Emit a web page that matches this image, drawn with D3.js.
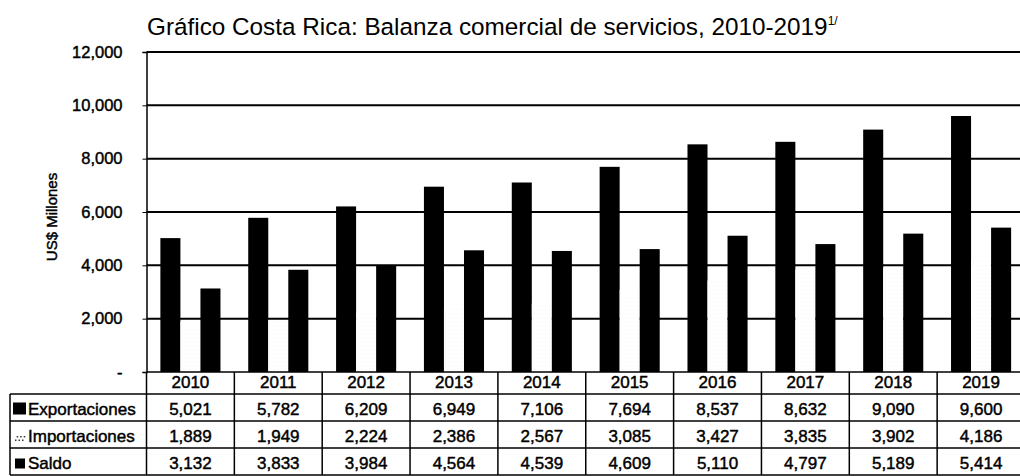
<!DOCTYPE html>
<html><head><meta charset="utf-8">
<script src="https://cdn.jsdelivr.net/npm/d3@7"></script>
<style>
html,body{margin:0;padding:0;background:#fff;}
svg{display:block;font-family:"Liberation Sans",Arial,sans-serif;}
.heavy{stroke:#000;stroke-width:0.45px;}
</style></head>
<body>
<svg id="chart" width="1020" height="476"></svg>
<script>
const years = ["2010","2011","2012","2013","2014","2015","2016","2017","2018","2019"];
const exportaciones = [5021,5782,6209,6949,7106,7694,8537,8632,9090,9600];
const importaciones = [1889,1949,2224,2386,2567,3085,3427,3835,3902,4186];
const saldo = [3132,3833,3984,4564,4539,4609,5110,4797,5189,5414];
const seriesNames = ["Exportaciones","Importaciones","Saldo"];
const yTicks = [0,2000,4000,6000,8000,10000,12000];
const titleText = "Gráfico Costa Rica: Balanza comercial de servicios, 2010-2019";
const yLabel = "US$ Millones";

const svg = d3.select("#chart");
const x = d3.scaleBand().domain(years).range([146.5, 1025]).padding(0);
const y = d3.scaleLinear().domain([0,12000]).range([372, 52]);
const series = [exportaciones, importaciones, saldo];
const fills = ["#000","#fff","#000"];
const barW = x.bandwidth()*0.228;

// dotted pattern for importaciones
const defs = svg.append("defs");
const pat = defs.append("pattern").attr("id","dots").attr("width",4).attr("height",4).attr("patternUnits","userSpaceOnUse");
pat.append("rect").attr("width",4).attr("height",4).attr("fill","#fff");
pat.append("rect").attr("x",1).attr("y",1).attr("width",0.6).attr("height",0.6).attr("fill","#e4e4e4");

// gridlines
svg.append("g").selectAll("line").data(yTicks.filter(d=>d>0)).join("line")
  .attr("x1", x.range()[0]).attr("x2", x.range()[1])
  .attr("y1", d=>y(d)).attr("y2", d=>y(d))
  .attr("stroke","#000").attr("stroke-width",2);

// bars
series.forEach((vals, si) => {
  svg.append("g").selectAll("rect").data(vals).join("rect")
    .attr("x", (d,i)=> x(years[i]) + x.bandwidth()/2 + (si-1.5)*barW)
    .attr("width", barW)
    .attr("y", d=>y(d))
    .attr("height", d=>y(0)-y(d))
    .attr("fill", si===1 ? "url(#dots)" : fills[si]);
});

// y axis
const yAxis = d3.axisLeft(y).tickValues(yTicks).tickSize(4).tickPadding(20)
  .tickFormat(d => d===0 ? "-" : d3.format(",")(d));
const ga = svg.append("g").attr("transform", `translate(${x.range()[0]},0)`).call(yAxis);
ga.select(".domain").attr("stroke","#000").attr("stroke-width",1.5);
ga.selectAll(".tick line").attr("stroke","#000");
ga.selectAll(".tick text").attr("font-size",16.5).attr("font-family","Liberation Sans, Arial, sans-serif").attr("fill","#000").attr("class","heavy");

// zero line
svg.append("line").attr("x1",x.range()[0]).attr("x2",x.range()[1]).attr("y1",y(0)).attr("y2",y(0)).attr("stroke","#000").attr("stroke-width",1.5);

// title
const t = svg.append("text").attr("x",147).attr("y",35).attr("font-size",24.3).attr("fill","#000").text(titleText);
t.append("tspan").attr("font-size",12).attr("dy",-10).text("1/");

// y label
svg.append("text").attr("transform","translate(57,217) rotate(-90)").attr("text-anchor","middle")
  .attr("font-size",15).attr("fill","#000").attr("class","heavy").text(yLabel);

// table
const rowTop = [y(0), 394, 421, 448, 475];
const tbl = svg.append("g").attr("stroke","#000").attr("stroke-width",1.5);
const xl = 10, x1 = x.range()[1];
[rowTop[1], rowTop[2], rowTop[3], rowTop[4]].forEach(yy => {
  tbl.append("line").attr("x1",xl).attr("x2",x1).attr("y1",yy).attr("y2",yy);
});
tbl.append("line").attr("x1",xl).attr("x2",xl).attr("y1",rowTop[1]).attr("y2",rowTop[4]);
years.forEach(yr => {
  tbl.append("line").attr("x1",x(yr)).attr("x2",x(yr)).attr("y1",rowTop[0]).attr("y2",rowTop[4]);
});
// header text
svg.append("g").selectAll("text").data(years).join("text")
  .attr("x", d=>x(d)+x.bandwidth()/2).attr("y", rowTop[1]-6)
  .attr("text-anchor","middle").attr("font-size",17).attr("fill","#000").attr("class","heavy").text(d=>d);
// data rows
const fmt = d3.format(",");
series.forEach((vals, si) => {
  const cy = rowTop[si+2] - 6.5;
  svg.append("g").selectAll("text").data(vals).join("text")
    .attr("x",(d,i)=>x(years[i])+x.bandwidth()/2).attr("y",cy)
    .attr("text-anchor","middle").attr("font-size",17).attr("fill","#000").attr("class","heavy").text(d=>fmt(d));
  const kx = 13;
  if (si===0) svg.append("rect").attr("x",kx).attr("y",cy-12).attr("width",13).attr("height",12).attr("fill","#000");
  else if (si===2) svg.append("rect").attr("x",kx+2).attr("y",cy-10).attr("width",10).attr("height",10).attr("fill","#000");
  else {
    const g = svg.append("g").attr("fill","#333");
    [[0,0],[3.5,0],[7,0],[1.7,-3.5],[5.2,-3.5],[8.7,-3.5]].forEach(p=>g.append("rect").attr("x",kx+2+p[0]).attr("y",cy-2+p[1]).attr("width",1.5).attr("height",1.5));
  }
  svg.append("text").attr("x", 28).attr("y",cy).attr("font-size",17).attr("fill","#000").attr("class","heavy").text(seriesNames[si]);
});
</script>
</body></html>
